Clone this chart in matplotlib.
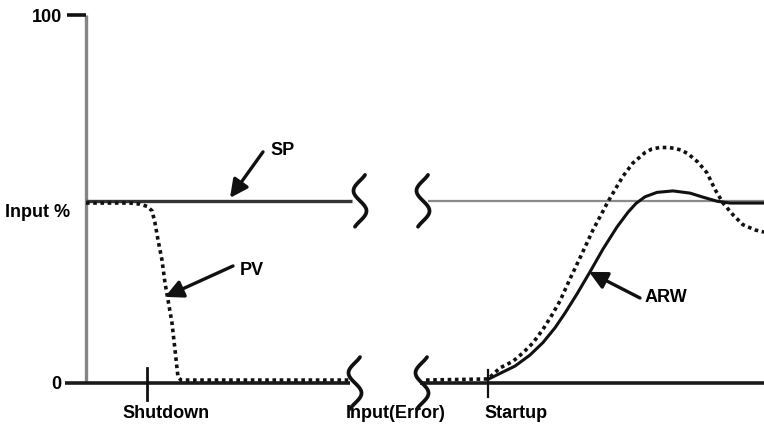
import numpy as np
import matplotlib
matplotlib.use("Agg")
import matplotlib.pyplot as plt

plt.rcParams['font.family'] = ['Liberation Sans', 'DejaVu Sans']

# ---- data (time units, input %) ----
sp_level = 49.5
sp_left_x = [86, 352]
sp_right_x = [428, 764]

pv_left_x = [86, 130, 140, 147, 152, 155, 158, 162, 165, 168, 172, 175, 178, 181, 350]
pv_left_y = [48.9, 48.9, 48.6, 48.0, 46.8, 43.5, 38.9, 33.4, 27.2, 22.6, 16.3, 9.0, 1.6, 0.8, 0.8]

pv_right_x = [426, 488, 500, 513, 523, 533, 543, 552, 560, 570, 580, 593, 602, 608, 613,
              623, 633, 645, 652, 660, 667, 674, 681, 688, 698, 707, 715, 723, 733, 743, 755, 764]
pv_right_y = [0.8, 1.1, 4.1, 5.9, 8.2, 10.9, 14.6, 18.5, 22.3, 28.3, 34.0, 41.6, 46.2, 49.3, 51.6,
              56.2, 59.8, 62.6, 63.6, 64.0, 64.0, 63.8, 63.3, 62.3, 60.0, 57.1, 52.6, 48.9, 45.7, 43.0, 41.6, 41.0]

arw_x = [488, 500, 515, 530, 543, 555, 565, 577, 590, 603, 617, 628, 636, 645, 657, 673,
         690, 703, 717, 730, 764]
arw_y = [1.0, 2.6, 4.6, 7.6, 11.0, 15.0, 19.0, 24.2, 30.2, 36.4, 42.4, 46.4, 48.8, 50.6, 51.8, 52.2,
         51.6, 50.5, 49.4, 48.9, 48.9]

x_axis_left = [65, 350]
x_axis_right = [420, 764]
y_axis_x = 86
event_x = {'Shutdown': 147, 'Startup': 488}
break_x_sp = [360, 423]
break_x_axis = [355, 422]

fig = plt.figure(figsize=(7.64, 4.28), dpi=100)
ax = fig.add_axes([0, 0, 1, 1])
ax.set_xlim(0, 764)
ax.set_ylim(-45 / 3.68, 100 + 15 / 3.68)
ax.axis('off')

dark = '#111111'

# axes
ax.plot([y_axis_x, y_axis_x], [0, 100], color='#858585', lw=2.4, solid_capstyle='butt', zorder=1)
ax.plot([67, y_axis_x], [100, 100], color=dark, lw=2.6, solid_capstyle='butt')
ax.plot(x_axis_left, [0, 0], color='#1a1a1a', lw=2.6, solid_capstyle='butt', zorder=2)
ax.plot(x_axis_right, [0, 0], color='#1a1a1a', lw=2.6, solid_capstyle='butt', zorder=2)

# SP line
ax.plot(sp_left_x, [sp_level] * 2, color='#333333', lw=2.4, solid_capstyle='butt')
ax.plot(sp_right_x, [sp_level] * 2, color='#8a8a8a', lw=1.6, solid_capstyle='butt')

# PV dotted
ax.plot(pv_left_x, pv_left_y, color=dark, lw=2.6, linestyle=(0, (1, 1)), dash_capstyle='butt')
ax.plot(pv_right_x, pv_right_y, color=dark, lw=2.6, linestyle=(0, (1, 1)), dash_capstyle='butt')

# ARW solid
ax.plot(arw_x, arw_y, color=dark, lw=2.2, solid_joinstyle='round')

# event ticks
ax.plot([event_x['Shutdown']] * 2, [4.1, -4.6], color=dark, lw=2.0)
ax.plot([event_x['Startup']] * 2, [3.5, -3.8], color=dark, lw=1.6)


# break symbols (S-shaped squiggles)
def squiggle(xc, yc, h=11.0, a=6.5):
    s = np.linspace(-0.14, 1.14, 60)
    xs = xc - a * np.sin(2 * np.pi * s)
    ys = yc + h / 2 - s * h
    ax.plot(xs, ys, color=dark, lw=2.7, solid_capstyle='round', zorder=5)


for bx in break_x_sp:
    squiggle(bx, sp_level)
for bx in break_x_axis:
    squiggle(bx, 0)

fs = 13
# tick labels
ax.text(62, 99.2, '100', ha='right', va='center', fontsize=fs, fontweight='bold')
ax.text(70, 46.2, 'Input %', ha='right', va='center', fontsize=fs, fontweight='bold')
ax.text(61, -0.5, '0', ha='right', va='center', fontsize=fs, fontweight='bold')
ax.text(166, -8.2, 'Shutdown', ha='center', va='center', fontsize=fs, fontweight='bold')
ax.text(396, -8.2, 'Input(Error)', ha='center', va='center', fontsize=fs, fontweight='bold')
ax.text(484, -8.2, 'Startup', ha='left', va='center', fontsize=fs, fontweight='bold')

ap = dict(arrowstyle='-|>,head_length=0.9,head_width=0.45', lw=2.4, color=dark,
          shrinkA=0, shrinkB=0, mutation_scale=12)
ax.annotate('', xy=(230, 50.3), xytext=(263, 62.8), arrowprops=ap)
ax.text(270, 63.3, 'SP', ha='left', va='center', fontsize=fs, fontweight='bold')
ax.annotate('', xy=(165, 23.4), xytext=(233, 31.8), arrowprops=ap)
ax.text(240, 30.7, 'PV', ha='left', va='center', fontsize=fs, fontweight='bold')
ax.annotate('', xy=(589, 30.2), xytext=(640, 23.1), arrowprops=ap)
ax.text(645, 23.1, 'ARW', ha='left', va='center', fontsize=fs, fontweight='bold')

fig.savefig('out.png', dpi=100, facecolor='white')
